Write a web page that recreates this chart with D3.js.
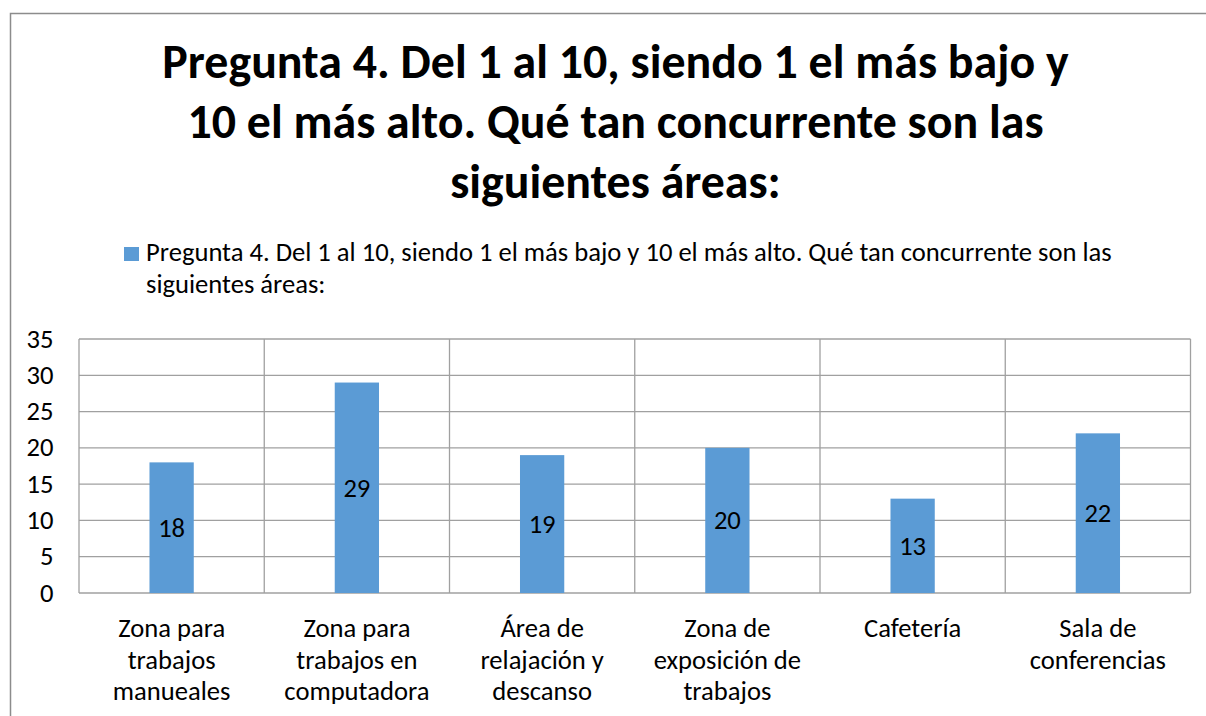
<!DOCTYPE html>
<html><head><meta charset="utf-8">
<script src="https://cdn.jsdelivr.net/npm/d3@7"></script>
<style>body{margin:0;background:#fff}svg{display:block}text{font-family:Carlito,Calibri,Lato,sans-serif;fill:#000}</style>
</head><body><svg id="c" width="1206" height="716"></svg>
<script>
const categories = [["Zona para","trabajos","manueales"],["Zona para","trabajos en","computadora"],["Área de","relajación y","descanso"],["Zona de","exposición de","trabajos"],["Cafetería"],["Sala de","conferencias"]];
const values = [18, 29, 19, 20, 13, 22];
const yTicks = [0,5,10,15,20,25,30,35];
const titleLines = ["Pregunta 4. Del 1 al 10, siendo 1 el más bajo y","10 el más alto. Qué tan concurrente son las","siguientes áreas:"];
const legendLines = ["Pregunta 4. Del 1 al 10, siendo 1 el más bajo y 10 el más alto. Qué tan concurrente son las","siguientes áreas:"];

const svg = d3.select("#c");
svg.append("rect").attr("x",10.5).attr("y",13.5).attr("width",1230).attr("height",740).attr("fill","none").attr("stroke","#8c8c8c").attr("stroke-width",1.5);

const L=79, R=1190.5, T=339, B=593;
const x = d3.scaleBand().domain(d3.range(values.length)).range([L,R]);
const y = d3.scaleLinear().domain([0,35]).range([B,T]);

const g = svg.append("g");
g.selectAll("line.h").data(yTicks).join("line").attr("x1",L).attr("x2",R).attr("y1",d=>y(d)).attr("y2",d=>y(d)).attr("stroke","#a0a0a0").attr("stroke-width",1.3);
g.selectAll("line.v").data(d3.range(values.length+1)).join("line").attr("x1",d=>L+d*x.bandwidth()).attr("x2",d=>L+d*x.bandwidth()).attr("y1",T).attr("y2",B).attr("stroke","#a0a0a0").attr("stroke-width",1.3);

const bw = x.bandwidth()*0.239;
g.selectAll("rect.bar").data(values).join("rect").attr("x",(d,i)=>x(i)+x.bandwidth()/2-bw/2).attr("width",bw).attr("y",d=>y(d)).attr("height",d=>B-y(d)).attr("fill","#5b9bd5");
g.selectAll("text.lbl").data(values).join("text").attr("x",(d,i)=>x(i)+x.bandwidth()/2).attr("y",d=>(y(d)+B)/2+9).attr("text-anchor","middle").style("font-size","26.6px").text(d=>d);

svg.selectAll("text.yt").data(yTicks).join("text").attr("x",53.5).attr("y",d=>y(d)+8.5).attr("text-anchor","end").style("font-size","26.6px").text(d=>d);

categories.forEach((lines,i)=>{
  lines.forEach((t,j)=>{
    svg.append("text").attr("x",x(i)+x.bandwidth()/2).attr("y",637+j*31.6).attr("text-anchor","middle").style("font-size","26.6px").text(t);
  });
});

titleLines.forEach((t,j)=>{
  svg.append("text").attr("x",615.5).attr("y",78+j*60).attr("text-anchor","middle").style("font-size","47.9px").style("font-weight","bold").text(t);
});

svg.append("rect").attr("x",124).attr("y",247).attr("width",15).attr("height",14).attr("fill","#5b9bd5");
legendLines.forEach((t,j)=>{
  svg.append("text").attr("x",146).attr("y",261+j*32).style("font-size","26.6px").text(t);
});
</script></body></html>
